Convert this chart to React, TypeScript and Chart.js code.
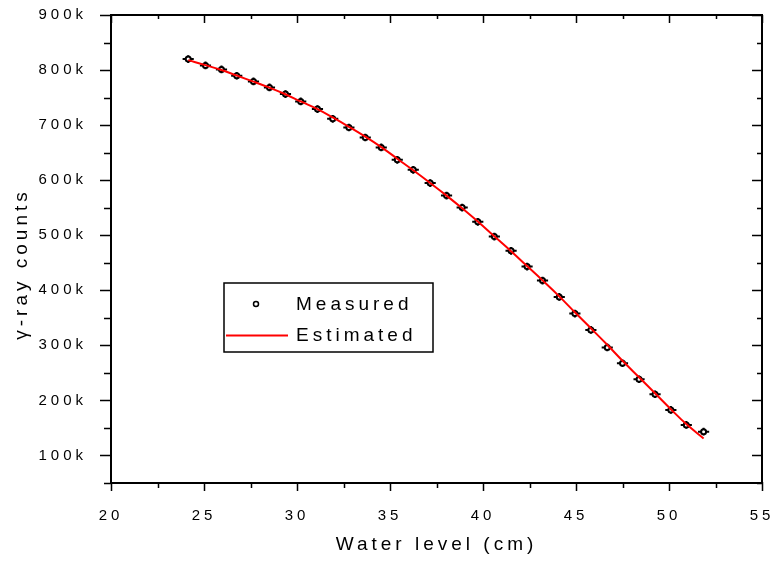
import React, { useEffect, useRef } from "react";
import { Chart, registerables } from "chart.js";

Chart.register(...registerables);

// ---- Data ----
const waterLevel = [
  24.15, 25.08, 25.94, 26.76, 27.66, 28.52, 29.38, 30.2, 31.1, 31.92, 32.79,
  33.67, 34.53, 35.39, 36.25, 37.16, 38.04, 38.88, 39.72, 40.61, 41.51, 42.37,
  43.2, 44.1, 44.94, 45.8, 46.68, 47.5, 48.39, 49.25, 50.1, 50.93, 51.86,
];
const measuredCounts = [
  820000, 808400, 801100, 789700, 779300, 768400, 756400, 743000, 729200,
  711500, 695700, 677500, 659400, 637000, 618800, 594700, 572100, 550300,
  524300, 497600, 471600, 443100, 417600, 388000, 357700, 328000, 296200,
  267500, 238400, 211200, 182700, 155400, 143300,
];
const estimatedCounts = [
  818000, 809000, 800000, 790000, 779000, 768000, 756000, 743000, 729000,
  714000, 697000, 679000, 660000, 639000, 618000, 595000, 572000, 549000,
  525000, 498000, 471000, 444000, 418000, 389000, 360000, 331000, 301000,
  272000, 242000, 213000, 184000, 157000, 131000,
];
const xError = 0.3;
const yError = 7000;
const xMajorTicks = [20, 25, 30, 35, 40, 45, 50, 55];
const xMinorTicks = [22.5, 27.5, 32.5, 37.5, 42.5, 47.5, 52.5];
const yMajorTicks = [100000, 200000, 300000, 400000, 500000, 600000, 700000, 800000, 900000];
const yMinorTicks = [50000, 150000, 250000, 350000, 450000, 550000, 650000, 750000, 850000];
const legendLabels = ["Measured", "Estimated"];
const yTitle = "γ-ray counts";
const xTitle = "Water level (cm)";

const FONT = "'Liberation Sans', Arial, Helvetica, sans-serif";
const SPACING = "4px";

const spacingPlugin = {
  id: "spacing",
  beforeInit(chart: any) {
    chart.ctx.letterSpacing = SPACING;
  },
  beforeLayout(chart: any) {
    chart.ctx.letterSpacing = SPACING;
  },
  beforeDraw(chart: any) {
    chart.ctx.letterSpacing = SPACING;
  },
};

const errorBarPlugin = {
  id: "errorBars",
  beforeDatasetsDraw(chart: any) {
    const { ctx, scales } = chart;
    const xs = scales.x;
    const ys = scales.y;
    ctx.save();
    ctx.strokeStyle = "#000";
    ctx.lineWidth = 2;
    waterLevel.forEach((xv, i) => {
      const yv = measuredCounts[i];
      const px = xs.getPixelForValue(xv);
      const py = ys.getPixelForValue(yv);
      ctx.beginPath();
      ctx.moveTo(xs.getPixelForValue(xv - xError), py);
      ctx.lineTo(xs.getPixelForValue(xv + xError), py);
      ctx.moveTo(px, ys.getPixelForValue(yv - yError));
      ctx.lineTo(px, ys.getPixelForValue(yv + yError));
      ctx.stroke();
    });
    ctx.restore();
  },
};

const framePlugin = {
  id: "frame",
  afterDraw(chart: any) {
    const { ctx, chartArea: a, scales } = chart;
    const xs = scales.x;
    const ys = scales.y;
    ctx.save();
    ctx.strokeStyle = "#000";
    ctx.lineWidth = 2;
    ctx.strokeRect(a.left, a.top, a.right - a.left, a.bottom - a.top);
    ctx.lineWidth = 1.5;
    ctx.beginPath();
    const tickX = (vals: number[], lenB: number, lenT: number) => {
      vals.forEach((v) => {
        const p = Math.round(xs.getPixelForValue(v)) + 0.5;
        ctx.moveTo(p, a.bottom - 1);
        ctx.lineTo(p, a.bottom + lenB);
        ctx.moveTo(p, a.top);
        ctx.lineTo(p, a.top + lenT);
      });
    };
    const tickY = (vals: number[], lenL: number, lenR: number) => {
      vals.forEach((v) => {
        const p = Math.round(ys.getPixelForValue(v)) + 0.5;
        ctx.moveTo(a.left + 1, p);
        ctx.lineTo(a.left - lenL, p);
        ctx.moveTo(a.right, p);
        ctx.lineTo(a.right - lenR, p);
      });
    };
    tickX(xMajorTicks, 8, 8);
    tickX(xMinorTicks, 5, 4);
    tickY(yMajorTicks, 11, 10);
    tickY(yMinorTicks, 7, 5);
    ctx.stroke();

    // y-axis title
    ctx.letterSpacing = SPACING;
    ctx.fillStyle = "#000";
    ctx.font = `19px ${FONT}`;
    ctx.save();
    ctx.translate(21.5, (a.top + a.bottom) / 2 + 15);
    ctx.rotate(-Math.PI / 2);
    ctx.textAlign = "center";
    ctx.textBaseline = "middle";
    ctx.fillText(yTitle, 0, 0);
    ctx.restore();

    // legend
    const lx = a.left + 113;
    const ly = a.top + 268;
    ctx.lineWidth = 1.5;
    ctx.strokeRect(lx, ly, 209, 69);
    ctx.beginPath();
    ctx.arc(lx + 32, ly + 21, 2.5, 0, Math.PI * 2);
    ctx.fillStyle = "#fff";
    ctx.fill();
    ctx.strokeStyle = "#000";
    ctx.lineWidth = 1.5;
    ctx.stroke();
    ctx.beginPath();
    ctx.strokeStyle = "#ff0000";
    ctx.lineWidth = 2;
    ctx.moveTo(lx + 2, ly + 52.5);
    ctx.lineTo(lx + 64, ly + 52.5);
    ctx.stroke();
    ctx.letterSpacing = SPACING;
    ctx.fillStyle = "#000";
    ctx.font = `19px ${FONT}`;
    ctx.textAlign = "left";
    ctx.textBaseline = "middle";
    ctx.fillText(legendLabels[0], lx + 72, ly + 22);
    ctx.fillText(legendLabels[1], lx + 72, ly + 53);
    ctx.restore();
  },
};

export default function App() {
  const ref = useRef<HTMLCanvasElement | null>(null);
  useEffect(() => {
    if (!ref.current) return;
    const chart = new Chart(ref.current, {
      type: "line",
      data: {
        datasets: [
          {
            label: legendLabels[1],
            data: waterLevel.map((x, i) => ({ x, y: estimatedCounts[i] })),
            borderColor: "#ff0000",
            borderWidth: 2,
            pointRadius: 0,
            tension: 0.4,
            fill: false,
            order: 0,
          },
          {
            label: legendLabels[0],
            data: waterLevel.map((x, i) => ({ x, y: measuredCounts[i] })),
            showLine: false,
            pointRadius: 2.5,
            pointBorderWidth: 2,
            pointBorderColor: "#000",
            pointBackgroundColor: "#fff",
            order: 1,
          },
        ],
      },
      options: {
        animation: false,
        responsive: false,
        devicePixelRatio: 1,
        layout: { padding: { left: 0, right: 12, top: 15, bottom: 0 } },
        plugins: {
          legend: { display: false },
          tooltip: { enabled: false },
        },
        scales: {
          x: {
            type: "linear",
            min: 20,
            max: 55,
            ticks: {
              stepSize: 5,
              padding: 16,
              color: "#000",
              font: { size: 15, family: FONT },
              maxRotation: 0,
              autoSkip: false,
            },
            grid: { display: false },
            border: { display: false },
            title: {
              display: true,
              text: xTitle,
              color: "#000",
              font: { size: 19, family: FONT },
              padding: { top: 0, bottom: 5 },
            },
            afterFit(scale: any) {
              scale.height = 78;
              scale.paddingLeft = 0;
              scale.paddingRight = 0;
            },
          },
          y: {
            type: "linear",
            min: 50000,
            max: 900000,
            afterBuildTicks(scale: any) {
              scale.ticks = yMajorTicks.map((v) => ({ value: v }));
            },
            ticks: {
              padding: 16,
              color: "#000",
              font: { size: 15, family: FONT },
              callback: (v: any) => `${Math.round(Number(v) / 1000)}k`,
            },
            grid: { display: false },
            border: { display: false },
            title: { display: false },
            afterFit(scale: any) {
              scale.width = 111;
              scale.paddingTop = 0;
              scale.paddingBottom = 0;
            },
          },
        },
      },
      plugins: [spacingPlugin, errorBarPlugin, framePlugin],
    } as any);
    return () => chart.destroy();
  }, []);
  return (
    <div style={{ position: "absolute", left: 0, top: 0, width: 774, height: 561, background: "#fff" }}>
      <canvas ref={ref} width={774} height={561} />
    </div>
  );
}
